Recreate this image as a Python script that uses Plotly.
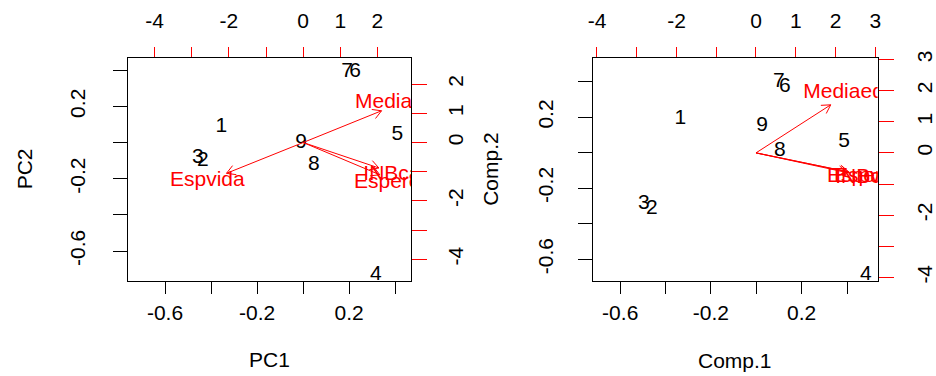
import math
import plotly.graph_objects as go

# ---- data -------------------------------------------------------------
obs_labels = ["1", "2", "3", "4", "5", "6", "7", "8", "9"]
var_labels = ["Espvida", "Mediaedu", "INBcap", "Esperedu"]

# prcomp scores (PC1, PC2)
pc1 = [-0.355, -0.436, -0.457, 0.316, 0.410, 0.226, 0.192, 0.047, -0.009]
pc2 = [0.089, -0.100, -0.084, -0.732, 0.041, 0.392, 0.392, -0.122, 0.000]
# prcomp loadings (label positions on the top/right scale)
load_pc1 = [-2.58, 2.64, 2.55, 2.58]
load_pc2 = [-1.32, 1.36, -1.09, -1.38]

# princomp scores (Comp.1, Comp.2)
comp1 = [-0.335, -0.461, -0.496, 0.483, 0.387, 0.126, 0.100, 0.104, 0.026]
comp2 = [0.193, -0.314, -0.287, -0.689, 0.061, 0.369, 0.397, 0.011, 0.149]
# princomp loadings
load_c1 = [2.90, 2.35, 2.86, 2.92]
load_c2 = [-0.76, 1.93, -0.79, -0.77]

# axis limits (R biplot uses a common range for x and y)
lim_left = [-0.763, 0.470]
lim_left_top = [-4.73, 2.91]
lim_right = [-0.720, 0.535]
lim_right_top = [-4.10, 3.06]

bottom_ticks = [-0.6, -0.4, -0.2, 0.0, 0.2, 0.4]
bottom_text = ["-0.6", "", "-0.2", "", "0.2", ""]
left_ticks = [-0.6, -0.4, -0.2, 0.0, 0.2, 0.4]
left_text = ["-0.6", "", "-0.2", "", "0.2", ""]
top_ticks_l = [-4, -3, -2, -1, 0, 1, 2]
top_text_l = ["-4", "", "-2", "", "0", "1", "2"]
right_ticks_l = [-4, -3, -2, -1, 0, 1, 2]
right_text_l = ["-4", "", "-2", "", "0", "1", "2"]
top_ticks_r = [-4, -3, -2, -1, 0, 1, 2, 3]
top_text_r = ["-4", "", "-2", "", "0", "1", "2", "3"]
right_ticks_r = [-4, -3, -2, -1, 0, 1, 2, 3]
right_text_r = ["-4", "", "-2", "", "0", "1", "2", "3"]

# ---- layout geometry --------------------------------------------------
W, H = 936, 376
FONT = "Liberation Sans, Arial, sans-serif"
FS = 21
RED = "#ff0000"

dom_y = [1 - 281 / H, 1 - 52 / H]
dom_x_left = [124 / W, 411 / W]
dom_x_right = [595 / W, 883 / W]

fig = go.Figure()


def arrow_path(lx, ly, rng, dom_x):
    """Arrow shafts (to 0.8 of the label position) with open V heads."""
    sx = (dom_x[1] - dom_x[0]) * W / (rng[1] - rng[0])
    sy = (dom_y[1] - dom_y[0]) * H / (rng[1] - rng[0])
    head, ang = 10.0, math.radians(30)
    xs, ys = [], []
    for x, y in zip(lx, ly):
        tx, ty = 0.8 * x, 0.8 * y
        th = math.atan2(ty * sy, tx * sx)
        xs += [0, tx, None]
        ys += [0, ty, None]
        h1 = (tx - head * math.cos(th + ang) / sx, ty - head * math.sin(th + ang) / sy)
        h2 = (tx - head * math.cos(th - ang) / sx, ty - head * math.sin(th - ang) / sy)
        xs += [h1[0], tx, h2[0], None]
        ys += [h1[1], ty, h2[1], None]
    return xs, ys


def add_panel(sx_, sy_, lx, ly, rng_top, dom_x, xa, ya, xa2, ya2):
    fig.add_trace(go.Scatter(
        x=sx_, y=sy_, mode="text", text=obs_labels, textposition="middle center",
        textfont=dict(family=FONT, size=FS, color="black"),
        xaxis=xa, yaxis=ya, cliponaxis=False, hoverinfo="skip", showlegend=False))
    ax, ay = arrow_path(lx, ly, rng_top, dom_x)
    fig.add_trace(go.Scatter(
        x=ax, y=ay, mode="lines", line=dict(color=RED, width=1),
        xaxis=xa2, yaxis=ya2, hoverinfo="skip", showlegend=False))
    fig.add_trace(go.Scatter(
        x=lx, y=ly, mode="text", text=var_labels, textposition="middle center",
        textfont=dict(family=FONT, size=FS, color=RED),
        xaxis=xa2, yaxis=ya2, cliponaxis=True, hoverinfo="skip", showlegend=False))


add_panel(pc1, pc2, load_pc1, load_pc2, lim_left_top, dom_x_left, "x", "y", "x2", "y2")
add_panel(comp1, comp2, load_c1, load_c2, lim_right_top, dom_x_right, "x3", "y3", "x4", "y4")

tickfont = dict(family=FONT, size=FS, color="black")


def base_axis(**kw):
    d = dict(showgrid=False, zeroline=False, showline=True, linecolor="black",
             linewidth=1, ticks="outside", tickwidth=1, tickfont=tickfont,
             tickmode="array", fixedrange=True)
    d.update(kw)
    return d


fig.update_layout(
    width=W, height=H, margin=dict(l=0, r=0, t=0, b=0),
    paper_bgcolor="white", plot_bgcolor="white", showlegend=False,
    # left panel
    xaxis=base_axis(domain=dom_x_left, anchor="y", range=lim_left,
                    tickvals=bottom_ticks, ticktext=bottom_text,
                    ticklen=12, tickcolor="black", ticklabelstandoff=1),
    yaxis=base_axis(domain=dom_y, anchor="x", range=lim_left,
                    tickvals=left_ticks, ticktext=left_text, tickangle=-90,
                    ticklen=14, tickcolor="black", ticklabelstandoff=19),
    xaxis2=base_axis(overlaying="x", side="top", anchor="y", range=lim_left_top,
                     tickvals=top_ticks_l, ticktext=top_text_l,
                     ticklen=10, tickcolor=RED, ticklabelstandoff=10),
    yaxis2=base_axis(overlaying="y", side="right", anchor="x", range=lim_left_top,
                     tickvals=right_ticks_l, ticktext=right_text_l, tickangle=-90,
                     ticklen=15, tickcolor=RED, ticklabelstandoff=11),
    # right panel
    xaxis3=base_axis(domain=dom_x_right, anchor="y3", range=lim_right,
                     tickvals=bottom_ticks, ticktext=bottom_text,
                     ticklen=12, tickcolor="black", ticklabelstandoff=1),
    yaxis3=base_axis(domain=dom_y, anchor="x3", range=lim_right,
                     tickvals=left_ticks, ticktext=left_text, tickangle=-90,
                     ticklen=14, tickcolor="black", ticklabelstandoff=17),
    xaxis4=base_axis(overlaying="x3", side="top", anchor="y3", range=lim_right_top,
                     tickvals=top_ticks_r, ticktext=top_text_r,
                     ticklen=10, tickcolor=RED, ticklabelstandoff=10),
    yaxis4=base_axis(overlaying="y3", side="right", anchor="x3", range=lim_right_top,
                     tickvals=right_ticks_r, ticktext=right_text_r, tickangle=-90,
                     ticklen=15, tickcolor=RED, ticklabelstandoff=13),
)

titles = [
    ("PC1", (124 + 411) / 2 / W, 1 - 362 / H, 0),
    ("PC2", 20 / W, 1 - 166 / H, -90),
    ("Comp.1", (595 + 883) / 2 / W, 1 - 363 / H, 0),
    ("Comp.2", 491 / W, 1 - 166 / H, -90),
]
for txt, x, y, ang in titles:
    fig.add_annotation(text=txt, x=x, y=y, xref="paper", yref="paper",
                       showarrow=False, textangle=ang, xanchor="center", yanchor="middle",
                       font=dict(family=FONT, size=FS, color="black"))

fig.write_html("out.html")
